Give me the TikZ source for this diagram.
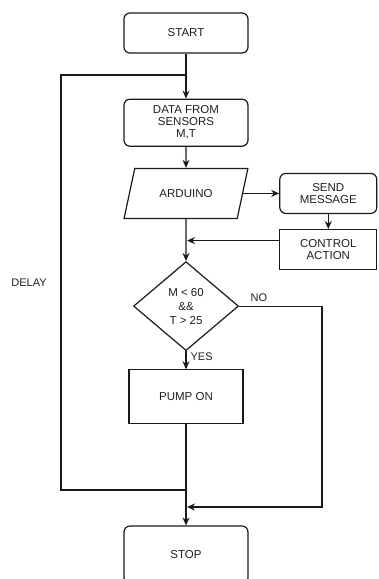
\documentclass[tikz,border=0pt]{standalone}
\usepackage{fontspec}
\setmainfont{Liberation Sans}
\usetikzlibrary{positioning,arrows.meta,shapes.geometric,calc}
\definecolor{flInk}{HTML}{1A1A1A}
\definecolor{flText}{HTML}{1F1F1F}
\tikzset{
  fl-box/.style={
    draw=flInk, line width=1.2pt, fill=white, text=flText,
    font=\fontsize{11.5}{12}\selectfont, align=center, inner sep=2pt
  },
  fl-term/.style={fl-box, rounded corners=6pt, minimum width=124pt},
  fl-proc/.style={fl-box},
  fl-io/.style={fl-box, trapezium, trapezium left angle=64,
    trapezium right angle=116, trapezium stretches=true,
    minimum width=124pt, minimum height=50pt},
  fl-dec/.style={fl-box, diamond, minimum width=105pt, minimum height=89pt,
    inner sep=0pt, font=\fontsize{11.5}{14}\selectfont},
  fl-flow/.style={-{Stealth[length=8pt,width=7pt]}, line width=1.2pt, draw=flInk},
  fl-line/.style={line width=1.2pt, draw=flInk},
  fl-label/.style={font=\fontsize{11}{12}\selectfont, text=flText, inner sep=1pt}
}

\begin{document}
\begin{tikzpicture}[x=1pt, y=-1pt]
\useasboundingbox (0,0) rectangle (378,579);

\node[fl-term, minimum height=40pt] (start) at (186,33) {START};
\node[fl-term, minimum height=47pt, below=45pt of start] (data)
  {DATA FROM\\SENSORS\\M,T};
\node[fl-io, below=21pt of data] (ard) {ARDUINO};
\node[fl-term, minimum width=97pt, minimum height=40pt, right=36pt of ard] (send)
  {SEND\\MESSAGE};
\node[fl-proc, minimum width=97pt, minimum height=40pt, below=15pt of send] (ctrl)
  {CONTROL\\ACTION};
\node[fl-dec, below=42pt of ard] (dec) {M < 60\\\&\&\\T > 25};
\node[fl-proc, minimum width=114pt, minimum height=54pt, below=18pt of dec] (pump)
  {PUMP ON};
\node[fl-term, minimum height=58pt, below=101pt of pump] (stop) {STOP};

\node[fl-label] (delay) at (29,283) {DELAY};

\coordinate (ar) at ($(ard.top right corner)!0.5!(ard.bottom right corner)$);
\coordinate (lt) at (61,75);
\coordinate (lb) at (61,490);
\coordinate (nc) at (322,507);

\draw[fl-flow] (start) -- (data);
\draw[fl-flow] (data) -- (ard);
\draw[fl-flow] (ar) -- (ar -| send.west);
\draw[fl-flow] (send) -- (ctrl);
\draw[fl-flow] (ard) -- (dec);
\draw[fl-flow] ([yshift=9pt]ctrl.west) -- ([yshift=9pt,xshift=1pt]ctrl.west -| ard.south);
\draw[fl-flow] (dec) -- node[fl-label, pos=0.3, right=3pt] {YES} (pump);
\draw[fl-flow] (pump) -- (stop);
\draw[fl-flow] (dec.east) -| node[fl-label, pos=0.12, above=3pt] {NO} (nc)
  -- ([xshift=1pt]stop.north |- nc);
\draw[fl-line] (pump.south |- lb) -- (lb) -- (lt) -- (start.south |- lt);
\end{tikzpicture}
\end{document}
